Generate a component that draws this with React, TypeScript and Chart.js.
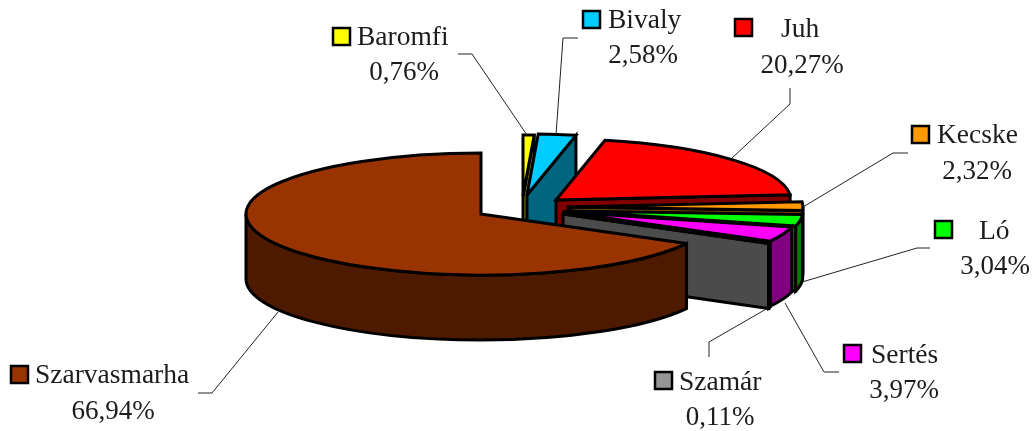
import React, { useEffect, useRef } from "react";
import { Chart, registerables } from "chart.js";

Chart.register(...registerables);

const categories = ["Baromfi", "Bivaly", "Juh", "Kecske", "Ló", "Sertés", "Szamár", "Szarvasmarha"];
const shares = [0.76, 2.58, 20.27, 2.32, 3.04, 3.97, 0.11, 66.94];

const topColors = ["#ffff00", "#00ccff", "#ff0000", "#ff9900", "#00ff00", "#ff00ff", "#969696", "#993300"];
const wallColors = ["#808000", "#006680", "#800000", "#804d00", "#008000", "#800080", "#4b4b4b", "#4d1a00"];

// explosion of each slice away from the pie centre, in px
const shiftX = [42, 46, 75, 87, 87, 83, 82, 0];
const shiftY = [-18, -19, -14, -7, -3, -2, 0, 0];

const PIE = { cx: 481, cy: 214, rx: 235, ry: 61, depth: 65 };
const NAME_FONT = '27.5px "Liberation Serif"';
const PCT_FONT = '27px "Liberation Serif"';
const INK = "#1c1c1c";

// swatch x/y, name x, name baseline, percent centre x, percent baseline
const labelSwatchX = [333, 583, 735, 912, 935, 844, 655, 11];
const labelSwatchY = [28, 11, 19, 126, 221, 345, 372, 366];
const labelNameX = [357, 608, 781, 937, 979, 871, 679, 35];
const labelNameY = [45, 28, 37, 143, 239, 363, 390, 383];
const labelPctX = [404, 643, 802, 977, 995, 904, 720, 113];
const labelPctY = [80, 63, 73, 179, 274, 398, 425, 419];

const leaders: number[][][] = [
  [[458, 54], [472, 54], [527, 135]],
  [[578, 38], [563, 38], [556, 135]],
  [[790, 88], [790, 104], [732, 158]],
  [[908, 153], [893, 153], [803, 207]],
  [[930, 248], [917, 248], [802, 282]],
  [[839, 372], [824, 372], [785, 303]],
  [[709, 357], [709, 342], [768, 308]],
  [[198, 393], [212, 393], [278, 312]],
];

const pie3d = {
  id: "pie3d",
  beforeDatasetsDraw(chart: any) {
    const ctx = chart.ctx as CanvasRenderingContext2D;
    const arcs = chart.getDatasetMeta(0).data as any[];
    ctx.save();
    ctx.lineJoin = "miter";
    ctx.miterLimit = 3;
    arcs.forEach((arc, i) => {
      const x0 = PIE.cx + shiftX[i];
      const y0 = PIE.cy + shiftY[i];
      const start = arc.startAngle as number;
      const end = arc.endAngle as number;
      const { rx, ry, depth } = PIE;
      ctx.strokeStyle = "#000";
      ctx.lineWidth = 3;
      ctx.fillStyle = wallColors[i];

      // wall along the closing radius, when it faces the viewer
      if (Math.cos(end) > 0.001) {
        const tx = x0 + rx * Math.cos(end);
        const ty = y0 + ry * Math.sin(end);
        ctx.beginPath();
        ctx.moveTo(x0, y0);
        ctx.lineTo(tx, ty);
        ctx.lineTo(tx, ty + depth);
        ctx.lineTo(x0, y0 + depth);
        ctx.closePath();
        ctx.fill();
        ctx.stroke();
      }

      // outer curved wall, front half only
      const a0 = Math.max(start, 0);
      const a1 = Math.min(end, Math.PI);
      if (a0 < a1) {
        ctx.beginPath();
        ctx.ellipse(x0, y0, rx, ry, 0, a0, a1, false);
        ctx.ellipse(x0, y0 + depth, rx, ry, 0, a1, a0, true);
        ctx.closePath();
        ctx.fill();
        ctx.stroke();
      }

      // top face: the library's own arc, squashed into the ellipse
      const R = arc.outerRadius as number;
      ctx.save();
      ctx.translate(x0, y0);
      ctx.scale(rx / R, ry / R);
      ctx.translate(-arc.x, -arc.y);
      arc.draw(ctx);
      ctx.restore();

      ctx.beginPath();
      ctx.moveTo(x0, y0);
      ctx.ellipse(x0, y0, rx, ry, 0, start, end, false);
      ctx.closePath();
      ctx.stroke();
    });
    ctx.restore();
    return false;
  },
  afterDraw(chart: any) {
    const ctx = chart.ctx as CanvasRenderingContext2D;
    ctx.save();
    ctx.strokeStyle = "#222";
    ctx.lineWidth = 1;
    leaders.forEach((pts) => {
      ctx.beginPath();
      pts.forEach(([x, y], k) => (k ? ctx.lineTo(x, y) : ctx.moveTo(x, y)));
      ctx.stroke();
    });
    ctx.fillStyle = INK;
    ctx.textBaseline = "alphabetic";
    categories.forEach((name, i) => {
      ctx.fillStyle = topColors[i];
      ctx.strokeStyle = "#000";
      ctx.lineWidth = 2.5;
      ctx.fillRect(labelSwatchX[i], labelSwatchY[i], 17, 17);
      ctx.strokeRect(labelSwatchX[i], labelSwatchY[i], 17, 17);
      ctx.fillStyle = INK;
      ctx.textAlign = "left";
      ctx.font = NAME_FONT;
      ctx.fillText(name, labelNameX[i], labelNameY[i]);
      ctx.textAlign = "center";
      ctx.font = PCT_FONT;
      ctx.fillText(shares[i].toFixed(2).replace(".", ",") + "%", labelPctX[i], labelPctY[i]);
    });
    ctx.restore();
  },
};

export default function App() {
  const ref = useRef<HTMLCanvasElement>(null);
  useEffect(() => {
    document.body.style.margin = "0";
    const chart = new Chart(ref.current!, {
      type: "pie",
      data: {
        labels: categories,
        datasets: [{ data: shares, backgroundColor: topColors, borderWidth: 0 }],
      },
      options: {
        responsive: false,
        animation: false,
        plugins: { legend: { display: false }, tooltip: { enabled: false } },
      },
      plugins: [pie3d],
    } as any);
    return () => chart.destroy();
  }, []);
  return (
    <div style={{ width: 1034, height: 431, background: "#fff" }}>
      <canvas ref={ref} width={1034} height={431} style={{ display: "block" }} />
    </div>
  );
}
